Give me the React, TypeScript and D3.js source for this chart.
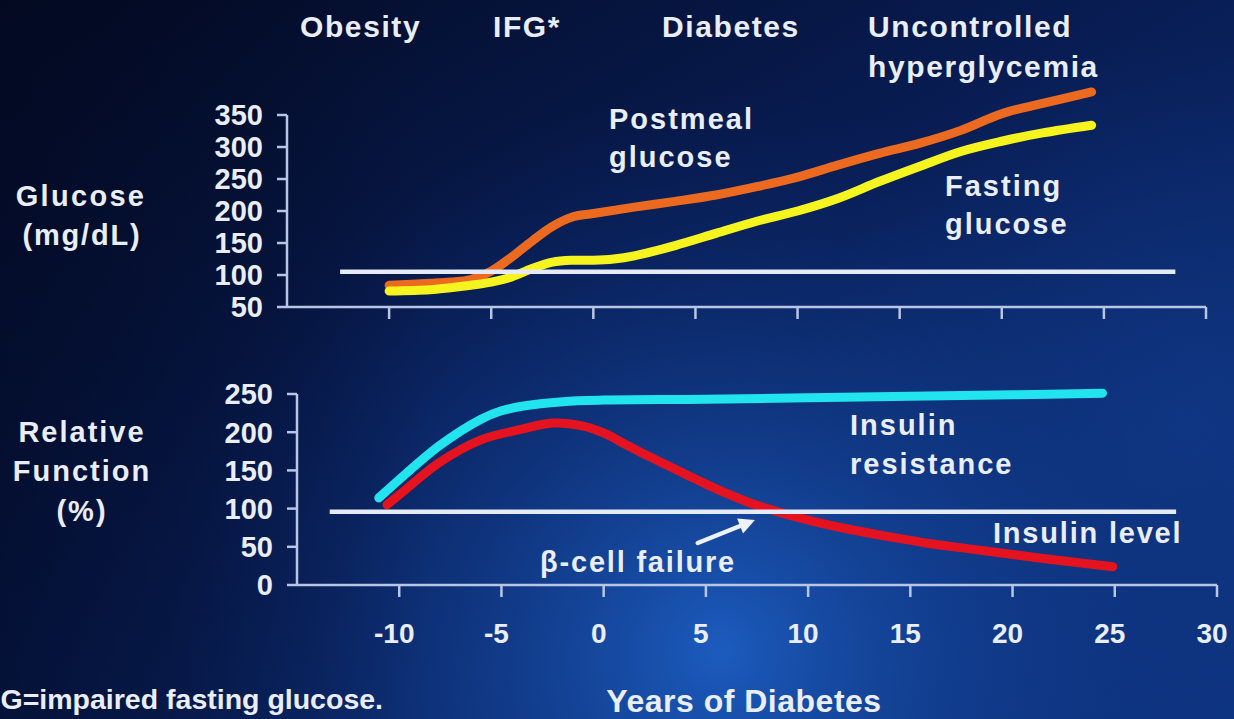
import React from 'react';
import * as d3 from 'd3';

const W = 1234;
const H = 719;

// Natural history of type 2 diabetes: years relative to diagnosis
const postmealYears = [-10, -8, -7, -6, -5, -4, -3, -2, -1, 0, 2, 4, 6, 8, 10, 12, 14, 16, 18, 20, 22, 24.4];
const postmealGlucose = [84, 87, 89, 93, 106, 128, 153, 176, 191, 196, 206, 215, 225, 238, 253, 272, 290, 306, 326, 352, 368, 386];

const fastingYears = [-10, -8, -7, -6, -5, -4, -3, -2, -1, 0, 1, 2, 4, 6, 8, 10, 12, 14, 16, 18, 20, 22, 24.4];
const fastingGlucose = [75, 77, 80, 84, 89, 97, 110, 120, 123, 123, 125, 130, 146, 165, 184, 200, 220, 246, 270, 293, 309, 322, 334];

const resistanceYears = [-11, -10, -8, -6, -5, -4, -2, 0, 5, 10, 15, 20, 24.4];
const insulinResistance = [114, 138, 183, 217, 228, 234, 240, 242, 243, 245, 247, 249, 251];

const insulinYears = [-10.6, -10, -8, -6, -4, -2.5, -1, 0, 1, 2, 3, 4, 5, 6, 7, 8, 10, 12, 14, 16, 18, 20, 22, 24.9];
const insulinLevel = [105, 118, 161, 190, 204, 212, 208, 199, 185, 171, 158, 145, 132, 120, 109, 100, 85, 73, 63, 54, 47, 40, 33, 24];

// Reference lines: [value, first year, last year]
const glucoseReference = [105, -12.4, 28.5];
const functionReference = [96, -13.4, 28.0];

// Axis ticks
const yearTicks = [-10, -5, 0, 5, 10, 15, 20, 25, 30];
const glucoseTicks = [50, 100, 150, 200, 250, 300, 350];
const functionTicks = [0, 50, 100, 150, 200, 250];

// Stage labels along the top
const stageLabels = ['Obesity', 'IFG*', 'Diabetes', 'Uncontrolled'];

const FONT = "'Liberation Sans', Arial, Helvetica, sans-serif";
const TEXT = '#e9edf6';
const AXIS = '#b9c5e4';

export default function App() {
  // Upper panel (glucose)
  const xTop = d3.scaleLinear().domain([-15, 30]).range([287, 1206]);
  const yTop = d3.scaleLinear().domain([50, 350]).range([307, 115]);
  // Lower panel (relative function)
  const xBot = d3.scaleLinear().domain([-15, 30]).range([297, 1217]);
  const yBot = d3.scaleLinear().domain([0, 250]).range([585, 394]);

  const curve = d3.curveCatmullRom.alpha(0.5);
  const lineTop = d3
    .line<[number, number]>()
    .x((d) => xTop(d[0]))
    .y((d) => yTop(d[1]))
    .curve(curve);
  const lineBot = d3
    .line<[number, number]>()
    .x((d) => xBot(d[0]))
    .y((d) => yBot(d[1]))
    .curve(curve);

  const zip = (a: number[], b: number[]) => a.map((v, i) => [v, b[i]] as [number, number]);

  const textStyle = {
    fill: TEXT,
    fontFamily: FONT,
    fontWeight: 700 as const,
  };

  const stageX = [300, 493, 662, 868];

  // Arrow pointing at the crossing of insulin level with baseline
  const arrowFrom = [4.6, 55];
  const arrowTo = [7.4, 85];
  const ax1 = xBot(arrowFrom[0]);
  const ay1 = yBot(arrowFrom[1]);
  const ax2 = xBot(arrowTo[0]);
  const ay2 = yBot(arrowTo[1]);
  const ang = Math.atan2(ay2 - ay1, ax2 - ax1);
  const headLen = 16;
  const headW = 8;
  const hx = ax2 - headLen * Math.cos(ang);
  const hy = ay2 - headLen * Math.sin(ang);
  const head = [
    [ax2, ay2],
    [hx + headW * Math.sin(ang), hy - headW * Math.cos(ang)],
    [hx - headW * Math.sin(ang), hy + headW * Math.cos(ang)],
  ]
    .map((p) => p.join(','))
    .join(' ');

  return (
    <svg
      width={W}
      height={H}
      viewBox={`0 0 ${W} ${H}`}
      style={{ position: 'absolute', left: 0, top: 0, display: 'block' }}
    >
      <defs>
        <linearGradient id="bgBase" x1="0" y1="0" x2="1" y2="1">
          <stop offset="0" stopColor="#030a22" />
          <stop offset="0.45" stopColor="#081c52" />
          <stop offset="1" stopColor="#0d3380" />
        </linearGradient>
        <radialGradient id="glow" cx="720" cy="650" r="560" gradientUnits="userSpaceOnUse">
          <stop offset="0" stopColor="#1d5ec2" stopOpacity="0.95" />
          <stop offset="0.45" stopColor="#1548a0" stopOpacity="0.5" />
          <stop offset="1" stopColor="#0a2a70" stopOpacity="0" />
        </radialGradient>
        <radialGradient id="glowRight" cx="1180" cy="420" r="380" gradientUnits="userSpaceOnUse">
          <stop offset="0" stopColor="#134096" stopOpacity="0.55" />
          <stop offset="1" stopColor="#134096" stopOpacity="0" />
        </radialGradient>
        <linearGradient id="leftShade" x1="0" y1="0" x2="1" y2="0">
          <stop offset="0" stopColor="#020820" stopOpacity="0.55" />
          <stop offset="0.35" stopColor="#020820" stopOpacity="0" />
        </linearGradient>
      </defs>

      <rect width={W} height={H} fill="url(#bgBase)" />
      <rect width={W} height={H} fill="url(#glowRight)" />
      <rect width={W} height={H} fill="url(#glow)" />
      <rect width={W} height={H} fill="url(#leftShade)" />

      {/* Stage labels */}
      {stageLabels.map((s, i) => (
        <text key={s} x={stageX[i]} y={37} fontSize={30} letterSpacing={1.6} {...textStyle}>
          {s}
        </text>
      ))}
      <text x={868} y={77} fontSize={30} letterSpacing={1.6} {...textStyle}>
        hyperglycemia
      </text>

      {/* Left titles */}
      <text x={81} y={206} fontSize={29} letterSpacing={2.3} textAnchor="middle" {...textStyle}>
        Glucose
      </text>
      <text x={82} y={245} fontSize={29} letterSpacing={1.8} textAnchor="middle" {...textStyle}>
        (mg/dL)
      </text>
      <text x={82} y={442} fontSize={29} letterSpacing={2} textAnchor="middle" {...textStyle}>
        Relative
      </text>
      <text x={82} y={481} fontSize={29} letterSpacing={2} textAnchor="middle" {...textStyle}>
        Function
      </text>
      <text x={82} y={521} fontSize={29} letterSpacing={2} textAnchor="middle" {...textStyle}>
        (%)
      </text>

      {/* Upper axes */}
      <g stroke={AXIS} strokeWidth={2.5} fill="none">
        <line x1={xTop(-15)} x2={xTop(-15)} y1={yTop(350)} y2={yTop(50)} />
        <line x1={xTop(-15)} x2={xTop(30)} y1={yTop(50)} y2={yTop(50)} />
        {glucoseTicks.map((t) => (
          <line key={t} x1={xTop(-15) - 10} x2={xTop(-15)} y1={yTop(t)} y2={yTop(t)} />
        ))}
        {yearTicks.map((t) => (
          <line key={t} x1={xTop(t)} x2={xTop(t)} y1={yTop(50)} y2={yTop(50) + 12} />
        ))}
      </g>
      {glucoseTicks.map((t) => (
        <text key={t} x={263} y={yTop(t)} dy="0.36em" fontSize={29} textAnchor="end" {...textStyle}>
          {t}
        </text>
      ))}

      {/* Lower axes */}
      <g stroke={AXIS} strokeWidth={2.5} fill="none">
        <line x1={xBot(-15)} x2={xBot(-15)} y1={yBot(250)} y2={yBot(0)} />
        <line x1={xBot(-15)} x2={xBot(30)} y1={yBot(0)} y2={yBot(0)} />
        {functionTicks.map((t) => (
          <line key={t} x1={xBot(-15) - 10} x2={xBot(-15)} y1={yBot(t)} y2={yBot(t)} />
        ))}
        {yearTicks.map((t) => (
          <line key={t} x1={xBot(t)} x2={xBot(t)} y1={yBot(0)} y2={yBot(0) + 12} />
        ))}
      </g>
      {functionTicks.map((t) => (
        <text key={t} x={273} y={yBot(t)} dy="0.36em" fontSize={29} textAnchor="end" {...textStyle}>
          {t}
        </text>
      ))}
      {yearTicks.map((t) => (
        <text key={t} x={xBot(t) - 5} y={643} fontSize={28} textAnchor="middle" {...textStyle}>
          {t}
        </text>
      ))}

      {/* Glucose curves */}
      <path
        d={lineTop(zip(postmealYears, postmealGlucose)) || ''}
        fill="none"
        stroke="#ec6a1f"
        strokeWidth={9}
        strokeLinecap="round"
        strokeLinejoin="round"
      />
      <path
        d={lineTop(zip(fastingYears, fastingGlucose)) || ''}
        fill="none"
        stroke="#f6f41f"
        strokeWidth={9}
        strokeLinecap="round"
        strokeLinejoin="round"
      />
      <line
        x1={xTop(glucoseReference[1])}
        x2={xTop(glucoseReference[2])}
        y1={yTop(glucoseReference[0])}
        y2={yTop(glucoseReference[0])}
        stroke="#e4eaf7"
        strokeWidth={4.5}
      />

      {/* Function curves */}
      <path
        d={lineBot(zip(resistanceYears, insulinResistance)) || ''}
        fill="none"
        stroke="#22e4ee"
        strokeWidth={9}
        strokeLinecap="round"
        strokeLinejoin="round"
      />
      <path
        d={lineBot(zip(insulinYears, insulinLevel)) || ''}
        fill="none"
        stroke="#e5121f"
        strokeWidth={9}
        strokeLinecap="round"
        strokeLinejoin="round"
      />
      <line
        x1={xBot(functionReference[1])}
        x2={xBot(functionReference[2])}
        y1={yBot(functionReference[0])}
        y2={yBot(functionReference[0])}
        stroke="#e4eaf7"
        strokeWidth={4.5}
      />

      {/* Series labels */}
      <text x={609} y={129} fontSize={29} letterSpacing={2} {...textStyle}>
        Postmeal
      </text>
      <text x={609} y={167} fontSize={29} letterSpacing={2} {...textStyle}>
        glucose
      </text>
      <text x={945} y={196} fontSize={29} letterSpacing={2} {...textStyle}>
        Fasting
      </text>
      <text x={945} y={234} fontSize={29} letterSpacing={2} {...textStyle}>
        glucose
      </text>
      <text x={850} y={435} fontSize={29} letterSpacing={2} {...textStyle}>
        Insulin
      </text>
      <text x={850} y={474} fontSize={29} letterSpacing={2} {...textStyle}>
        resistance
      </text>
      <text x={993} y={543} fontSize={29} letterSpacing={1.8} {...textStyle}>
        Insulin level
      </text>
      <text x={540} y={572} fontSize={29} letterSpacing={1.8} {...textStyle}>
        β-cell failure
      </text>

      {/* Arrow */}
      <line x1={ax1} y1={ay1} x2={hx} y2={hy} stroke="#eef2fa" strokeWidth={4.5} strokeLinecap="round" />
      <polygon points={head} fill="#eef2fa" />

      {/* Axis title and footnote */}
      <text x={744} y={712} fontSize={32} letterSpacing={0.5} textAnchor="middle" {...textStyle}>
        Years of Diabetes
      </text>
      <text x={383} y={709} fontSize={28.5} textAnchor="end" {...textStyle}>
        IFG=impaired fasting glucose.
      </text>
    </svg>
  );
}
